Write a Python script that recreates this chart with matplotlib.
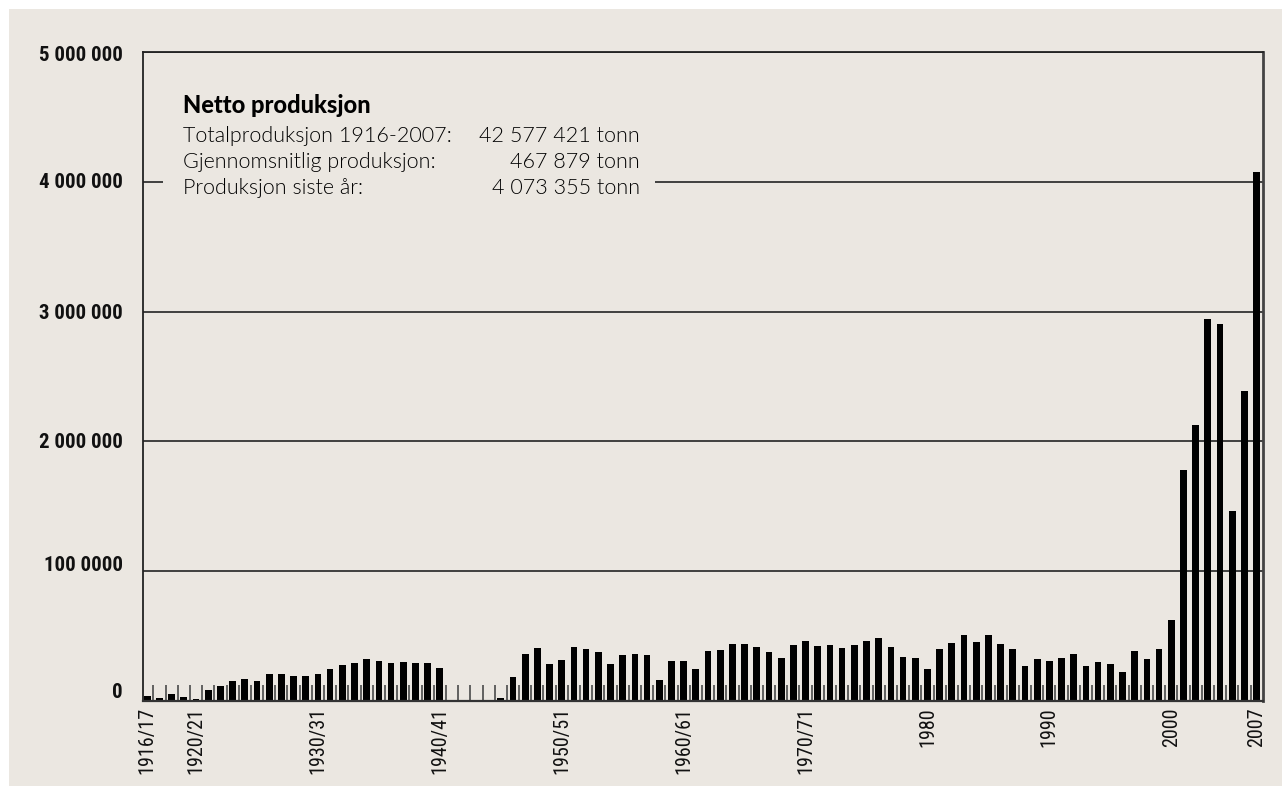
import numpy as np
import matplotlib
matplotlib.use("Agg")
import matplotlib.pyplot as plt
from matplotlib import font_manager as fm
from matplotlib.patches import Rectangle

# ---------------- data ----------------
years = list(range(1916, 2008))
production = [
    36000, 20000, 51000, 28000, 13000, 82000, 113000, 152000, 167000, 152000,   # 1916-1925
    206000, 206000, 190000, 190000, 206000, 244000, 275000, 290000, 321000, 306000,  # 1926-1935
    290000, 298000, 290000, 290000, 252000, 0, 0, 0, 0, 20000,                 # 1936-1945
    182000, 360000, 406000, 283000, 314000, 414000, 398000, 375000, 283000, 352000,  # 1946-1955
    360000, 352000, 159000, 306000, 306000, 244000, 383000, 391000, 437000, 437000,  # 1956-1965
    414000, 375000, 329000, 429000, 460000, 421000, 429000, 406000, 429000, 460000,  # 1966-1975
    483000, 414000, 337000, 329000, 244000, 398000, 445000, 506000, 452000, 506000,  # 1976-1985
    437000, 398000, 267000, 321000, 306000, 329000, 360000, 267000, 301000, 285000,  # 1986-1995
    224000, 384000, 323000, 400000, 624000, 1782000, 2128000, 2941000, 2902000, 1466000,  # 1996-2005
    2390000, 4073355,                                                            # 2006-2007
]
xtick_years = [1916, 1920, 1930, 1940, 1950, 1960, 1970, 1980, 1990, 2000, 2007]
xtick_labels = ["1916/17", "1920/21", "1930/31", "1940/41", "1950/51", "1960/61",
                "1970/71", "1980", "1990", "2000", "2007"]
ytick_values = [0, 1000000, 2000000, 3000000, 4000000, 5000000]
ytick_labels = ["0", "100 0000", "2 000 000", "3 000 000", "4 000 000", "5 000 000"]

info_title = "Netto produksjon"
info_labels = ["Totalproduksjon 1916-2007:", "Gjennomsnitlig produksjon:", "Produksjon siste år:"]
info_values = ["42 577 421 tonn", "467 879 tonn", "4 073 355 tonn"]

# ---------------- fonts ----------------
names = {f.name for f in fm.fontManager.ttflist}
def pick(*cands):
    for c in cands:
        if c in names:
            return c
    return "DejaVu Sans"

cond = pick("Roboto Condensed", "Liberation Sans Narrow", "Open Sans Condensed",
            "DejaVu Sans Condensed", "Roboto")
textfont = pick("Lato", "Roboto", "Open Sans")

# ---------------- figure ----------------
W, H = 1282, 796
BG = "#ebe7e1"
fig = plt.figure(figsize=(W / 100, H / 100), dpi=100, facecolor="white")
fig.patches.append(Rectangle((9 / W, (H - 786) / H), (W - 9) / W, (786 - 9) / H,
                             transform=fig.transFigure, facecolor=BG, edgecolor="none", zorder=-10))

ax_l, ax_r, ax_t, ax_b = 143, 1262.7, 52, 701
ax = fig.add_axes([ax_l / W, (H - ax_b) / H, (ax_r - ax_l) / W, (ax_b - ax_t) / H])
ax.set_zorder(5)
ax.set_facecolor("none")

x = np.arange(len(years))
ax.bar(x, production, width=0.55, color="black", zorder=2)

ax.set_xlim(-0.35, len(years) - 0.5)
ax.set_ylim(0, 5000000)

# y axis: gridlines at ticks, labels drawn as annotations (slight offsets as in original)
ax.set_yticks(ytick_values)
ax.set_yticklabels([])
ax.tick_params(axis="y", length=0)
ax.yaxis.grid(True, color="#333333", linewidth=1.3, zorder=0)
ax.set_axisbelow(True)
label_dy = [9, 6, -1, -2, -1, -3]   # pixels upward
for v, lab, dy in zip(ytick_values, ytick_labels, label_dy):
    ax.annotate(lab, xy=(0, v), xycoords=("axes fraction", "data"),
                xytext=(-20, dy), textcoords="offset pixels",
                ha="right", va="center", fontfamily=cond, fontweight="bold",
                fontsize=15, color="#111111", annotation_clip=False)

# x axis
ax.set_xticks([years.index(yv) for yv in xtick_years])
ax.set_xticklabels(xtick_labels, rotation=90, fontfamily=cond, fontsize=14.5, color="#111111",
                   va="top", ha="center")
ax.tick_params(axis="x", which="major", length=0, pad=4.5)
ax.set_xticks(np.arange(0.5, len(years) - 0.5, 1), minor=True)
ax.tick_params(axis="x", which="minor", direction="in", length=11.5, width=1.2, color="#4a4a4a")

for side in ["left", "top"]:
    ax.spines[side].set_color("#222222")
    ax.spines[side].set_linewidth(1.3)
ax.spines["bottom"].set_color("#333333")
ax.spines["bottom"].set_linewidth(1.6)
ax.spines["right"].set_color("#444444")
ax.spines["right"].set_linewidth(2.0)

# info block (with background mask over the gridline)
def axx(px):
    return (px - ax_l) / (ax_r - ax_l)
def axy(py):
    return (ax_b - py) / (ax_b - ax_t)

ax.add_patch(Rectangle((axx(163), axy(205)), axx(655) - axx(163), axy(88) - axy(205),
                       transform=ax.transAxes, facecolor=BG, edgecolor="none", zorder=3))
ax.text(axx(183), axy(113), info_title, transform=ax.transAxes, fontfamily=textfont,
        fontweight=900, fontsize=17, color="black", va="baseline", ha="left", zorder=4)
base_y = [142, 168, 194]
for lab, val, by in zip(info_labels, info_values, base_y):
    ax.text(axx(183), axy(by), lab, transform=ax.transAxes, fontfamily=textfont,
            fontweight=300, fontsize=15.5, color="black", va="baseline", ha="left", zorder=4)
    ax.text(axx(640), axy(by), val, transform=ax.transAxes, fontfamily=textfont,
            fontweight=300, fontsize=15.5, color="black", va="baseline", ha="right", zorder=4)

fig.savefig("out.png", dpi=100, facecolor=fig.get_facecolor())
